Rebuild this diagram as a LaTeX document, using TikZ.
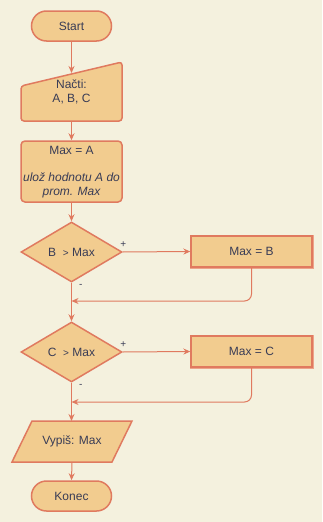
\documentclass[tikz,border=0pt]{standalone}
\usepackage{fontspec}
\setmainfont{Liberation Sans}
\usetikzlibrary{arrows.meta,shapes.geometric}
\definecolor{bg}{HTML}{F4F1DE}
\definecolor{fillc}{HTML}{F2CC8F}
\definecolor{strokec}{HTML}{E07A5F}
\definecolor{txt}{HTML}{393C56}
\definecolor{halo}{HTML}{EDA48A}
\begin{document}
\begin{tikzpicture}[x=1pt,y=-1pt,
  every node/.style={text=txt,font=\fontsize{12}{14}\selectfont},
  shp/.style={fill=fillc,draw=strokec,line width=1.5pt},
  term/.style={shp,rounded corners=15pt,minimum width=80pt,minimum height=30pt,inner sep=0pt},
  procbox/.style={shp,rounded corners=4pt,minimum width=101pt,minimum height=61pt,inner sep=0pt,align=center},
  dec/.style={shp,diamond,minimum width=101pt,minimum height=60pt,inner sep=0pt,aspect=1.68},
  simple/.style={fill=fillc,draw=strokec,line width=1.3pt,minimum width=121pt,minimum height=31pt,inner sep=0pt,
     preaction={draw=halo,line width=3pt}},
  conn/.style={draw=strokec,line width=1pt,-{Stealth[length=7pt,width=6pt]}},
  lbl/.style={font=\fontsize{10}{11}\selectfont,inner sep=0pt}]
\useasboundingbox[fill=bg] (0,0) rectangle (322,522);

\node[term] (start) at (71.5,26) {Start};

% manual input
\filldraw[fill=fillc,draw=strokec,line width=1.5pt,rounded corners=3pt]
  (21,86) -- (122,62) -- (122,121) -- (21,121) -- cycle;
\node[minimum width=101pt,minimum height=59pt,inner sep=0pt] (in) at (71.5,91.5) {};
\node[align=center,inner sep=0pt] (intext) at (71.5,92) {Načti:\\A, B, C};

\node[procbox] (maxa) at (71.5,171.5) {};
\node[align=center,inner sep=0pt,anchor=north] (maxatext) at (71.5,146.5)
  {Max = A\\[13pt]\itshape ulož hodnotu A do\\\itshape prom. Max};

\node[dec] (d1) at (71.5,252) {B~~{\fontsize{10}{12}\selectfont >} Max};
\node[simple] (mb) at (251.5,251.5) {Max = B};
\node[dec] (d2) at (71.5,352) {C~~{\fontsize{10}{12}\selectfont >} Max};
\node[simple] (mc) at (251.5,351.5) {Max = C};

% output parallelogram
\filldraw[fill=fillc,draw=strokec,line width=1.5pt]
  (32,421) -- (132,421) -- (112,462) -- (12,462) -- cycle;
\node[minimum width=100pt,minimum height=41pt,inner sep=0pt] (out) at (72,441.5) {Vypiš: Max};

\node[term] (konec) at (71.5,496) {Konec};

\coordinate (j1) at (71.5,301);
\coordinate (j2) at (71.5,402);

\draw[conn] (start) -- (71.5,73);
\draw[conn] (in.south) -- (maxa.north);
\draw[conn] (maxa.south) -- (d1.north);
\draw[conn] (d1.east) -- (mb.west) node[pos=0,lbl,anchor=south west,xshift=-3pt,yshift=4pt] (p1) {+};
\draw[conn,rounded corners=7pt] (mb.south) |- (j1);
\draw[conn] (d1.south) -- (d2.north) node[pos=0,lbl,anchor=north west,xshift=7pt,yshift=-1pt] (m1) {-};
\draw[conn] (d2.east) -- (mc.west) node[pos=0,lbl,anchor=south west,xshift=-3pt,yshift=4pt] (p2) {+};
\draw[conn,rounded corners=7pt] (mc.south) |- (j2);
\draw[conn] (d2.south) -- (71.5,421) node[pos=0,lbl,anchor=north west,xshift=7pt,yshift=-1pt] (m2) {-};
\draw[conn] (out.south) -- (konec.north);
\end{tikzpicture}
\end{document}
